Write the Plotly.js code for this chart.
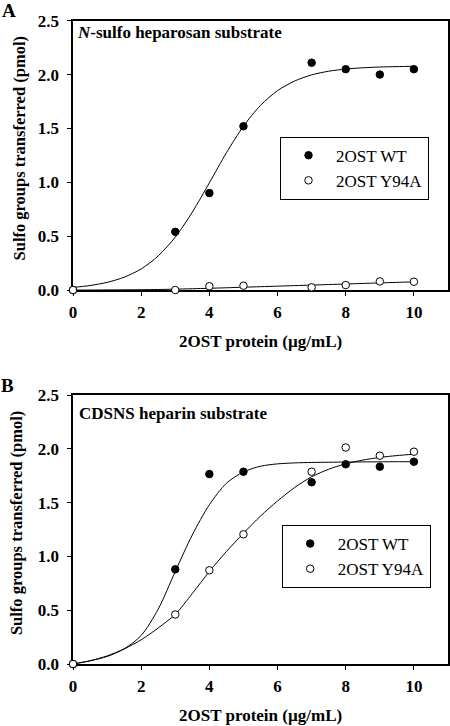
<!DOCTYPE html>
<html>
<head>
<meta charset="utf-8">
<script src="https://cdn.plot.ly/plotly-3.0.1.min.js"></script>
<style>html,body{margin:0;padding:0;background:#fff;}#chart{width:450px;height:726px;}</style>
</head>
<body>
<div id="chart"></div>
<script>
// ---- data ----
const doseX = [0, 3, 4, 5, 7, 8, 9, 10];
const wtA   = [0, 0.54, 0.90, 1.52, 2.11, 2.05, 2.00, 2.05];
const y94aA = [0, 0.00, 0.035, 0.04, 0.025, 0.046, 0.08, 0.077];
const wtB   = [0, 0.88, 1.765, 1.787, 1.689, 1.856, 1.834, 1.88];
const y94aB = [0, 0.46, 0.871, 1.205, 1.787, 2.012, 1.936, 1.973];

// fitted curves
const fitX     = [0,0.5,1,1.5,2,2.5,3,3.5,4,4.5,5,5.5,6,6.5,7,7.5,8,8.5,9,9.5,10];
const fitA_WT  = [0.024,0.042,0.071,0.119,0.196,0.317,0.491,0.723,0.995,1.274,1.521,1.714,1.851,1.940,1.997,2.031,2.051,2.063,2.070,2.074,2.077];
const fitA_Y94A= [0,0,0.001,0.002,0.003,0.005,0.008,0.012,0.016,0.021,0.026,0.031,0.036,0.041,0.046,0.051,0.056,0.061,0.066,0.071,0.076];
const fitB_WT  = [0,0.03,0.07,0.14,0.265,0.51,0.86,1.2,1.48,1.68,1.785,1.838,1.86,1.869,1.873,1.875,1.877,1.878,1.879,1.88,1.88];
const fitB_Y94A= [0,0.03,0.075,0.14,0.225,0.335,0.462,0.655,0.86,1.045,1.215,1.375,1.515,1.64,1.74,1.81,1.86,1.895,1.92,1.937,1.95];

const seriesNames = ['2OST WT', '2OST Y94A'];
const xTicks = [0, 2, 4, 6, 8, 10];
const yTicks = [0, 0.5, 1.0, 1.5, 2.0, 2.5];

const FONT = 'Liberation Serif, Times New Roman, serif';

function curve(x, y, xa, ya) {
  return {x: x, y: y, xaxis: xa, yaxis: ya, mode: 'lines', type: 'scatter',
          line: {color: '#000', width: 1, shape: 'spline', smoothing: 0.8},
          showlegend: false, hoverinfo: 'skip', cliponaxis: false};
}
function pts(x, y, xa, ya, filled, name, legend) {
  return {x: x, y: y, xaxis: xa, yaxis: ya, mode: 'markers', type: 'scatter', name: name,
          legend: legend, cliponaxis: false,
          marker: {symbol: 'circle', size: 7.5, color: filled ? '#000' : '#fff',
                   line: {color: '#000', width: 1}}};
}

const data = [
  curve(fitX, fitA_WT, 'x', 'y'),
  curve(fitX, fitA_Y94A, 'x', 'y'),
  pts(doseX, wtA, 'x', 'y', true, seriesNames[0], 'legend'),
  pts(doseX, y94aA, 'x', 'y', false, seriesNames[1], 'legend'),
  curve(fitX, fitB_WT, 'x2', 'y2'),
  curve(fitX, fitB_Y94A, 'x2', 'y2'),
  pts(doseX, wtB, 'x2', 'y2', true, seriesNames[0], 'legend2'),
  pts(doseX, y94aB, 'x2', 'y2', false, seriesNames[1], 'legend2')
];

function xax(anchor) {
  return {anchor: anchor, range: [0, 11], tickvals: xTicks, ticktext: xTicks.map(String),
          showgrid: false, zeroline: false, showline: true, linecolor: '#000', linewidth: 1.6,
          mirror: true, ticks: 'outside', ticklen: 4, tickwidth: 1, tickcolor: '#000',
          ticklabelstandoff: 2, layer: 'below traces',
          tickfont: {family: FONT, size: 17, color: '#000', weight: 'bold'}};
}
function yax(anchor, domain) {
  return {anchor: anchor, domain: domain, range: [0, 2.5], tickvals: yTicks,
          ticktext: yTicks.map(v => v.toFixed(1)),
          showgrid: false, zeroline: false, showline: true, linecolor: '#000', linewidth: 1.6,
          mirror: true, ticks: 'outside', ticklen: 4, tickwidth: 1, tickcolor: '#000',
          ticklabelstandoff: 5, layer: 'below traces',
          tickfont: {family: FONT, size: 17, color: '#000', weight: 'bold'}};
}

const legendBase = {xanchor: 'left', yanchor: 'top', bgcolor: '#fff', bordercolor: '#000',
  borderwidth: 1, itemwidth: 45, tracegroupgap: 0,
  font: {family: FONT, size: 17, color: '#000'}};

const ann = (text, x, y, opts) => Object.assign({text: text, x: x, y: y, xref: 'paper', yref: 'paper',
  xanchor: 'center', yanchor: 'middle',
  showarrow: false, font: {family: FONT, size: 17, color: '#000', weight: 'bold'}}, opts || {});

const layout = {
  width: 450, height: 726,
  margin: {l: 73, r: 2, t: 20, b: 62},
  paper_bgcolor: '#fff', plot_bgcolor: '#fff',
  showlegend: true,
  xaxis: xax('y'),
  yaxis: yax('x', [0.5807, 0.9989]),
  xaxis2: xax('y2'),
  yaxis2: yax('x2', [0, 0.4177]),
  legend: Object.assign({x: 0.552, y: 0.8188}, legendBase),
  legend2: Object.assign({x: 0.5565, y: 0.2158}, legendBase),
  annotations: [
    ann('A', -0.1707, 1.014, {font: {family: FONT, size: 19, color: '#000', weight: 'bold'}}),
    ann('B', -0.1747, 0.4317, {font: {family: FONT, size: 19, color: '#000', weight: 'bold'}}),
    ann('<i>N</i>-sulfo heparosan substrate', 0.0053, 0.981, {xanchor: 'left'}),
    ann('CDSNS heparin substrate', 0.0107, 0.3889, {xanchor: 'left'}),
    ann('Sulfo groups transferred (pmol)', -0.144, 0.8005, {textangle: -90,
      font: {family: FONT, size: 16.5, color: '#000', weight: 'bold'}}),
    ann('Sulfo groups transferred (pmol)', -0.149, 0.219, {textangle: -90,
      font: {family: FONT, size: 16.5, color: '#000', weight: 'bold'}}),
    ann('2OST protein (µg/mL)', 0.5, 0.5005),
    ann('2OST protein (µg/mL)', 0.5, -0.0805)
  ]
};

Plotly.newPlot('chart', data, layout, {displayModeBar: false, staticPlot: true});
</script>
</body>
</html>
